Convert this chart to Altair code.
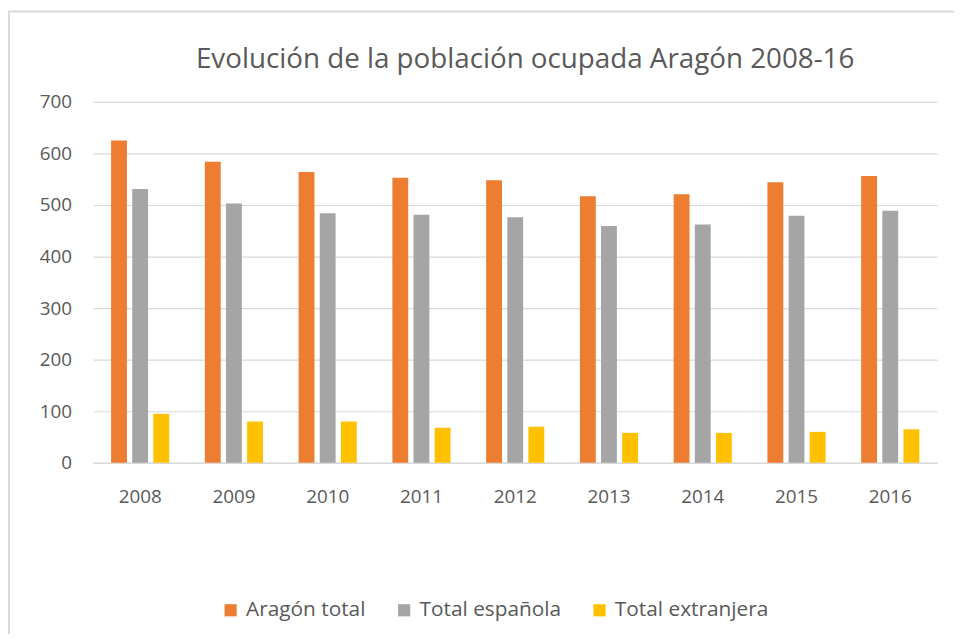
import altair as alt
import pandas as pd

years = ["2008", "2009", "2010", "2011", "2012", "2013", "2014", "2015", "2016"]
aragon_total = [625, 584, 564, 553, 548, 517, 521, 544, 556]
total_espanola = [531, 503, 484, 481, 476, 459, 462, 479, 489]
total_extranjera = [95, 80, 80, 68, 70, 58, 58, 60, 65]
series = ["Aragón total", "Total española", "Total extranjera"]
colors = ["#ED7D31", "#A5A5A5", "#FFC000"]

rows = []
for i, y in enumerate(years):
    for s, vals in zip(series, [aragon_total, total_espanola, total_extranjera]):
        rows.append({"year": y, "serie": s, "value": vals[i]})
df = pd.DataFrame(rows)

FONT = "Open Sans"
TXT = "#595959"

bars = alt.Chart(df).mark_bar().encode(
    x=alt.X("year:N", sort=years, title=None,
            scale=alt.Scale(paddingInner=0.38, paddingOuter=0.19),
            axis=alt.Axis(labelAngle=0, ticks=False, grid=False, labelPadding=25,
                          domainColor="#D9D9D9", domainWidth=1.5,
                          labelFontSize=19, labelColor=TXT, labelFont=FONT)),
    xOffset=alt.XOffset("serie:N", sort=series,
                        scale=alt.Scale(paddingInner=0.25, paddingOuter=0)),
    y=alt.Y("value:Q", title=None,
            scale=alt.Scale(domain=[0, 700]),
            axis=alt.Axis(values=[0, 100, 200, 300, 400, 500, 600, 700],
                          ticks=False, domain=False, labelPadding=22,
                          gridColor="#D9D9D9", gridWidth=1.2,
                          labelFontSize=19, labelColor=TXT, labelFont=FONT)),
    color=alt.Color("serie:N", sort=series,
                    scale=alt.Scale(domain=series, range=colors),
                    legend=alt.Legend(title=None, orient="none", direction="horizontal",
                                      legendX=128, legendY=502,
                                      symbolType="square", symbolSize=150,
                                      symbolStrokeWidth=0,
                                      labelFontSize=21, labelColor=TXT, labelFont=FONT,
                                      columnPadding=28, symbolOffset=0, labelOffset=5)),
)

frame = alt.Chart(pd.DataFrame({"a": [0]})).mark_rect(
    fill=None, stroke="#D9D9D9", strokeWidth=2, clip=False
).encode(
    x=alt.value(-85), x2=alt.value(880),
    y=alt.value(-91), y2=alt.value(560),
)

chart = alt.layer(frame, bars).properties(
    width=851,
    height=364,
    background="white",
    title=alt.TitleParams("Evolución de la población ocupada Aragón 2008-16",
                          fontSize=28, font=FONT, fontWeight="normal",
                          color=TXT, anchor="middle", frame="group",
                          offset=-64, dx=10),
    autosize=alt.AutoSizeParams(type="none"),
    padding={"left": 86, "top": 92, "right": 17, "bottom": 170},
).configure_view(strokeWidth=0, stroke="transparent")

chart.save("out.html", embed_options={"renderer": "svg", "actions": False})
